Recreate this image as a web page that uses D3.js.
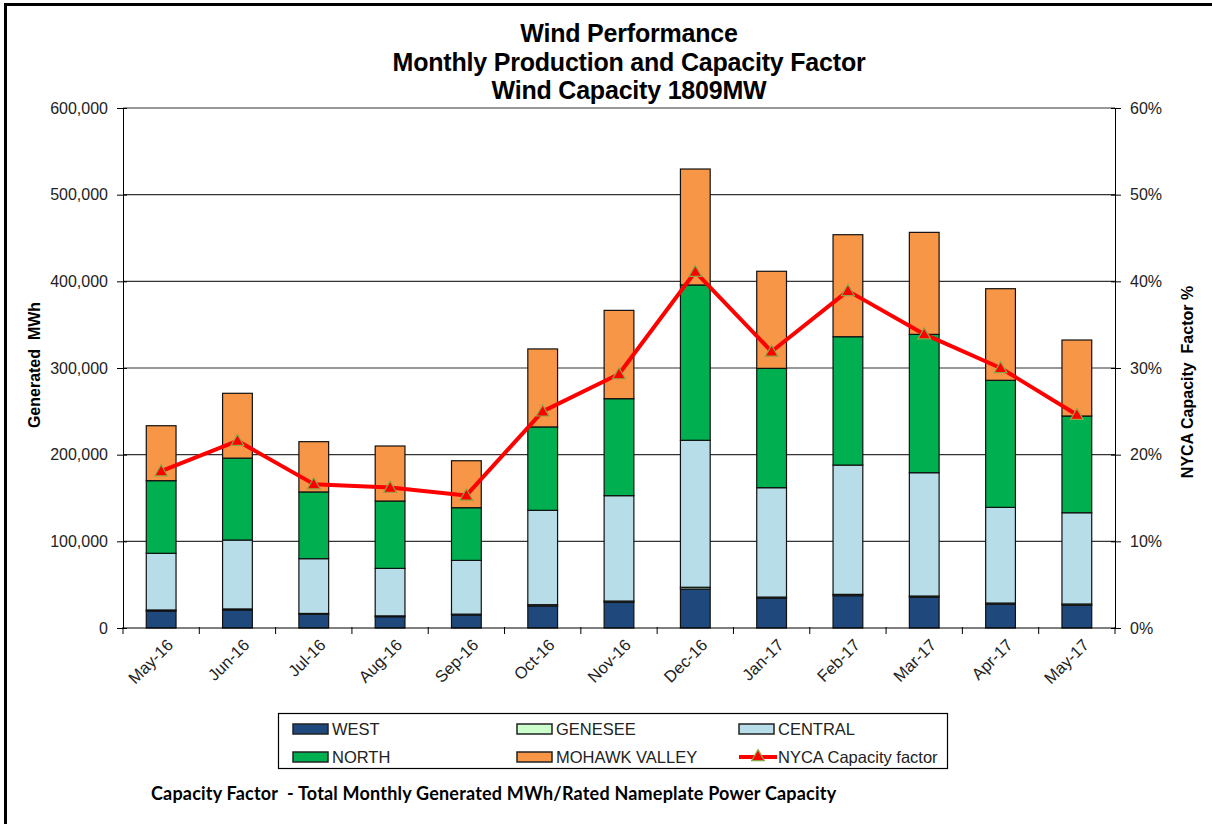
<!DOCTYPE html>
<html>
<head>
<meta charset="utf-8">
<script src="https://cdn.jsdelivr.net/npm/d3@7"></script>
<style>
  body { margin: 0; background: #fff; }
  svg { display: block; font-family: "Liberation Sans", Arial, sans-serif; }
</style>
</head>
<body>
<svg id="chart" width="1212" height="824"></svg>
<script>
// month categories
const months = ["May-16", "Jun-16", "Jul-16", "Aug-16", "Sep-16", "Oct-16", "Nov-16",
                "Dec-16", "Jan-17", "Feb-17", "Mar-17", "Apr-17", "May-17"];

// generated MWh per zone
const west    = [19600, 20800, 15800, 13000, 15000, 25400, 29600, 45000, 34200, 37300, 35400, 27300, 26200];
const genesee = [1200, 1200, 1000, 1000, 1000, 1500, 1500, 2000, 1500, 1500, 1500, 1500, 1500];
const central = [65400, 79500, 63200, 54800, 62000, 108900, 121600, 169600, 126200, 149200, 142300, 110400, 105300];
const north   = [83800, 94500, 77000, 77700, 60800, 96200, 111900, 179200, 137700, 148100, 159600, 146600, 111600];
const mohawk  = [63400, 74800, 58000, 63500, 54200, 90000, 101900, 133800, 112000, 117700, 117700, 105700, 87700];

// NYCA capacity factor, %
const capacityFactor = [18.1, 21.6, 16.6, 16.2, 15.3, 25.0, 29.3, 41.1, 31.9, 38.9, 33.9, 30.0, 24.6];

const leftTicks = [0, 100000, 200000, 300000, 400000, 500000, 600000];
const rightTicks = [0, 10, 20, 30, 40, 50, 60];

const zones = [
  { key: "west",    label: "WEST",           color: "#1F497D", values: west },
  { key: "genesee", label: "GENESEE",        color: "#CCFFCC", values: genesee },
  { key: "central", label: "CENTRAL",        color: "#B7DEE8", values: central },
  { key: "north",   label: "NORTH",          color: "#00B050", values: north },
  { key: "mohawk",  label: "MOHAWK VALLEY",  color: "#F79646", values: mohawk }
];

const svg = d3.select("#chart");

// outer frame (cut by the picture on right and bottom)
svg.append("rect")
  .attr("x", 5.5).attr("y", 4.5)
  .attr("width", 1240).attr("height", 850)
  .attr("fill", "none").attr("stroke", "#000").attr("stroke-width", 3);

const plot = { left: 123, right: 1115, top: 108, bottom: 628 };

const x = d3.scaleBand().domain(months).range([plot.left, plot.right]).padding(0);
const y = d3.scaleLinear().domain([0, 600000]).range([plot.bottom, plot.top]);
const yR = d3.scaleLinear().domain([0, 60]).range([plot.bottom, plot.top]);

// title
const titleLines = ["Wind Performance", "Monthly Production and Capacity Factor", "Wind Capacity 1809MW"];
svg.append("g").selectAll("text")
  .data(titleLines)
  .join("text")
  .attr("x", 629)
  .attr("y", (d, i) => 42 + i * 28.5)
  .attr("text-anchor", "middle")
  .attr("font-size", 25)
  .attr("font-weight", "bold")
  .attr("letter-spacing", -0.2)
  .text(d => d);

// gridlines
svg.append("g")
  .selectAll("line")
  .data(leftTicks.filter(d => d > 0))
  .join("line")
  .attr("x1", plot.left).attr("x2", plot.right)
  .attr("y1", d => y(d)).attr("y2", d => y(d))
  .attr("stroke", "#333").attr("stroke-width", 1.1);

// stacked bars
const table = months.map((m, i) => {
  const row = { month: m };
  zones.forEach(z => { row[z.key] = z.values[i]; });
  return row;
});
const stacked = d3.stack().keys(zones.map(z => z.key))(table);

const barW = x.bandwidth() * 0.39;
svg.append("g")
  .selectAll("g")
  .data(stacked)
  .join("g")
  .attr("fill", (d, i) => zones[i].color)
  .selectAll("rect")
  .data(d => d)
  .join("rect")
  .attr("x", d => x(d.data.month) + (x.bandwidth() - barW) / 2)
  .attr("y", d => y(d[1]))
  .attr("width", barW)
  .attr("height", d => y(d[0]) - y(d[1]))
  .attr("stroke", "#111")
  .attr("stroke-width", 1.2);

// left axis
const leftAxis = svg.append("g").attr("transform", `translate(${plot.left},0)`)
  .call(d3.axisLeft(y).tickValues(leftTicks).tickFormat(d3.format(",")).tickSizeInner(6).tickSizeOuter(0).tickPadding(9));
leftAxis.select(".domain").attr("stroke", "#000");
leftAxis.selectAll(".tick line").attr("x2", 4).attr("x1", -6).attr("stroke", "#000");
leftAxis.selectAll("text").attr("font-size", 16).attr("fill", "#222")
  .attr("font-family", "'Liberation Sans', Arial, sans-serif");

// right axis
const rightAxis = svg.append("g").attr("transform", `translate(${plot.right},0)`)
  .call(d3.axisRight(yR).tickValues(rightTicks).tickFormat(d => d + "%").tickSizeInner(6).tickSizeOuter(0).tickPadding(9));
rightAxis.select(".domain").attr("stroke", "#000");
rightAxis.selectAll(".tick line").attr("x1", -4).attr("x2", 6).attr("stroke", "#000");
rightAxis.selectAll("text").attr("font-size", 16).attr("fill", "#222")
  .attr("font-family", "'Liberation Sans', Arial, sans-serif");

// bottom axis with ticks between categories
svg.append("line")
  .attr("x1", plot.left).attr("x2", plot.right)
  .attr("y1", plot.bottom).attr("y2", plot.bottom)
  .attr("stroke", "#000");
const bounds = months.map(m => x(m)).concat([plot.right]);
svg.append("g").selectAll("line")
  .data(bounds)
  .join("line")
  .attr("x1", d => d).attr("x2", d => d)
  .attr("y1", plot.bottom - 1).attr("y2", plot.bottom + 6)
  .attr("stroke", "#000");
svg.append("g").selectAll("text")
  .data(months)
  .join("text")
  .attr("transform", d => `translate(${x(d) + x.bandwidth() / 2 + 9},${plot.bottom + 14}) rotate(-45)`)
  .attr("text-anchor", "end")
  .attr("dy", "0.35em")
  .attr("font-size", 16.5)
  .attr("fill", "#222")
  .text(d => d);

// axis titles
svg.append("text")
  .attr("transform", `translate(40,365) rotate(-90)`)
  .attr("text-anchor", "middle")
  .attr("font-size", 16).attr("font-weight", "bold")
  .style("white-space", "pre")
  .text("Generated  MWh");
svg.append("text")
  .attr("transform", `translate(1193,382) rotate(-90)`)
  .attr("text-anchor", "middle")
  .attr("font-size", 16).attr("font-weight", "bold")
  .style("white-space", "pre")
  .text("NYCA Capacity  Factor %");

// capacity factor line
const cx = (d, i) => x(months[i]) + x.bandwidth() / 2;
const line = d3.line().x(cx).y(d => yR(d));
svg.append("path")
  .datum(capacityFactor)
  .attr("d", line)
  .attr("fill", "none")
  .attr("stroke", "#FF0000")
  .attr("stroke-width", 4)
  .attr("stroke-linejoin", "round");
const tri = d3.symbol().type(d3.symbolTriangle).size(70);
svg.append("g").selectAll("path")
  .data(capacityFactor)
  .join("path")
  .attr("d", tri)
  .attr("transform", (d, i) => `translate(${cx(d, i)},${yR(d) + 1})`)
  .attr("fill", "#FF0000")
  .attr("stroke", "#8DA647")
  .attr("stroke-width", 1.2);

// legend
svg.append("rect")
  .attr("x", 278.5).attr("y", 713.5)
  .attr("width", 669).attr("height", 55)
  .attr("fill", "#fff").attr("stroke", "#000").attr("stroke-width", 1.2);

const legendItems = [
  { label: "WEST", color: "#1F497D", col: 0, row: 0 },
  { label: "GENESEE", color: "#CCFFCC", col: 1, row: 0 },
  { label: "CENTRAL", color: "#B7DEE8", col: 2, row: 0 },
  { label: "NORTH", color: "#00B050", col: 0, row: 1 },
  { label: "MOHAWK VALLEY", color: "#F79646", col: 1, row: 1 },
  { label: "NYCA Capacity factor", color: null, col: 2, row: 1 }
];
const colX = [293, 517, 739];
const rowY = [729, 757];
const lg = svg.append("g").selectAll("g")
  .data(legendItems)
  .join("g")
  .attr("transform", d => `translate(${colX[d.col]},${rowY[d.row]})`);
lg.filter(d => d.color)
  .append("rect")
  .attr("x", 0).attr("y", -5)
  .attr("width", 35).attr("height", 10)
  .attr("fill", d => d.color)
  .attr("stroke", "#222").attr("stroke-width", 1.5);
const lineItem = lg.filter(d => !d.color);
lineItem.append("line")
  .attr("x1", 0).attr("x2", 38).attr("y1", 0).attr("y2", 0)
  .attr("stroke", "#FF0000").attr("stroke-width", 4);
lineItem.append("path")
  .attr("d", tri)
  .attr("transform", "translate(19,0)")
  .attr("fill", "#FF0000").attr("stroke", "#8DA647").attr("stroke-width", 1.2);
lg.append("text")
  .attr("x", 39).attr("y", 0).attr("dy", "0.36em")
  .attr("font-size", 16.5).attr("fill", "#222")
  .text(d => d.label);

// footnote
svg.append("text")
  .attr("x", 151).attr("y", 800)
  .attr("font-family", "Lato, 'Open Sans', sans-serif")
  .attr("font-size", 18).attr("font-weight", "bold")
  .attr("letter-spacing", 0.2)
  .style("white-space", "pre")
  .text("Capacity Factor  - Total Monthly Generated MWh/Rated Nameplate Power Capacity");
</script>
</body>
</html>
